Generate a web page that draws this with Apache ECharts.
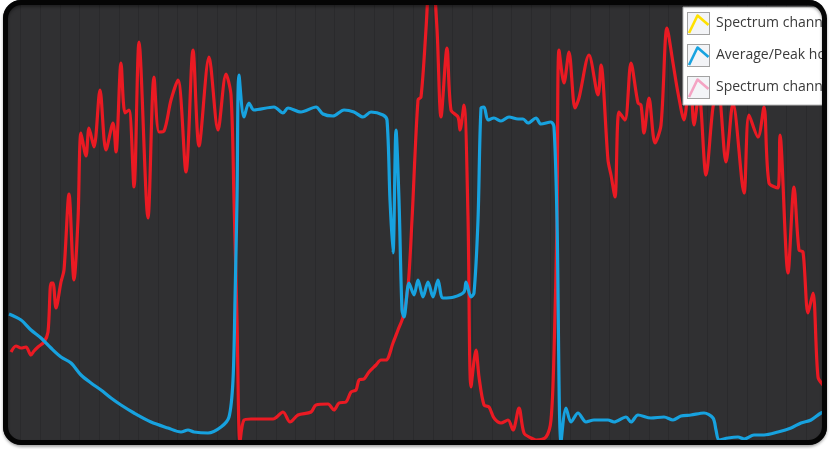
<!DOCTYPE html>
<html><head><meta charset="utf-8">
<script src="https://cdn.jsdelivr.net/npm/echarts@6/dist/echarts.min.js"></script>
<style>html,body{margin:0;padding:0;background:#fff}#c{width:830px;height:449px}</style>
</head><body><div id="c"></div>
<script>
// Horizontal position (channel index across the sweep) and level (arbitrary units above plot floor)
const redX = [10,15,20,25,30,33,37,43,47,50,52,55,60,63,68,73,77,80,85,88,93,99,105,112,115,120,124,128,133,138,147,153,158,163,170,177,185,192,198,208,217,225,230,233,236,239,243,250,272,282,289,297,310,315,327,333,338,345,350,355,358,363,368,375,380,385,392,397,402,407,411,417,420,425,430,436,440,446,450,457,459,463,467,470,475,478,483,488,493,500,507,512,518,523,530,535,545,550,553,556,558,563,568,574,578,588,597,600,607,610,614,618,624,630,637,640,643,648,654,660,666,672,677,683,689,693,698,705,712,717,725,732,743,748,757,763,768,777,779,787,793,798,802,807,812,817,822,828];
const redY = [97,103,101,102,94,98,102,107,117,166,166,141,167,179,255,169,229,316,293,321,302,359,299,326,297,386,336,339,262,407,231,372,317,318,349,369,277,399,303,392,319,375,354,249,129,7,29,30,30,37,27,34,37,44,45,39,46,47,57,59,69,70,77,84,89,89,106,119,132,162,229,349,352,420,500,420,332,401,339,332,319,344,232,62,99,72,44,42,31,26,29,19,41,16,11,9,12,29,96,229,399,366,397,341,351,394,354,384,289,274,252,337,329,386,346,344,316,351,306,324,421,386,356,329,379,324,356,274,342,361,287,346,256,334,312,342,266,261,314,176,262,199,197,136,156,72,64,59];
const blueX = [8,20,30,40,50,60,70,80,90,100,110,120,133,150,167,180,187,193,207,220,228,232,234,236,238,243,248,253,273,282,287,300,315,322,332,343,353,362,370,382,386,389,392,395,398,401,403,408,413,417,422,427,432,437,442,453,463,465,470,473,477,480,483,487,493,500,508,517,522,527,535,540,550,553,556,560,565,570,577,585,593,607,613,625,630,637,650,663,672,680,690,703,712,715,718,727,737,743,753,763,777,790,800,810,820,828];
const blueY = [135,129,119,111,101,92,86,74,66,59,51,44,36,27,21,17,19,17,16,22,32,69,149,249,374,332,346,339,342,336,341,337,342,335,333,339,337,332,337,334,329,249,196,319,249,139,132,166,154,169,152,167,152,169,151,152,157,167,152,156,229,341,342,329,331,328,332,330,330,326,331,325,327,322,229,7,41,27,36,27,29,29,27,32,27,34,31,32,29,33,34,36,31,19,9,11,12,10,14,14,17,21,26,29,36,39];
const legendNames = ['Spectrum channel 1', 'Average/Peak hold', 'Spectrum channel 2'];
const legendColors = ['#ffe100', '#18a3e0', '#f4a3c3'];
const redName = 'Spectrum channel';

function icon(c) {
  const s = '<svg xmlns="http://www.w3.org/2000/svg" width="23" height="23" viewBox="0 0 23 23">' +
    '<rect x="0.5" y="0.5" width="22" height="22" fill="#f3f4f7" stroke="#a2a2a2"/>' +
    '<polyline points="2,21 10.5,3.5 21.5,13" fill="none" stroke="' + c + '" stroke-width="2.6" stroke-linejoin="round"/></svg>';
  return 'image://data:image/svg+xml;charset=utf-8,' + encodeURIComponent(s);
}

const chart = echarts.init(document.getElementById('c'), null, {renderer: 'canvas'});
chart.setOption({
  animation: false,
  backgroundColor: '#303032',
  grid: {left: 1, right: 0, top: 0, bottom: 0},
  xAxis: {
    type: 'value', min: 0, max: 829, interval: 19.63,
    axisLine: {show: false}, axisTick: {show: false}, axisLabel: {show: false},
    splitLine: {show: true, lineStyle: {color: '#2a2a2c', width: 1}}
  },
  yAxis: {
    type: 'value', min: 0, max: 449,
    axisLine: {show: false}, axisTick: {show: false}, axisLabel: {show: false},
    splitLine: {show: false}
  },
  legend: {
    orient: 'vertical', left: 683, top: 7,
    padding: [5, 30, 6, 4], itemGap: 9, itemWidth: 23, itemHeight: 23,
    backgroundColor: '#ffffff', borderColor: '#b8b8b8', borderWidth: 1,
    selectedMode: false,
    textStyle: {fontFamily: 'Open Sans', fontSize: 14, color: '#3a3a3a', padding: [0, 0, 0, 1]},
    data: legendNames.map((n, i) => ({name: n, icon: icon(legendColors[i])}))
  },
  series: [
    {name: legendNames[0], type: 'line', data: [], symbol: 'none', lineStyle: {color: legendColors[0], width: 3}, itemStyle: {color: legendColors[0]}},
    {name: legendNames[2], type: 'line', data: [], symbol: 'none', lineStyle: {color: legendColors[2], width: 3}, itemStyle: {color: legendColors[2]}},
    {name: redName, type: 'line', data: redX.map((x, i) => [x, redY[i]]), symbol: 'none', smooth: 0.3,
      lineStyle: {color: '#ea1a23', width: 3.2}, itemStyle: {color: '#ea1a23'}},
    {name: legendNames[1], type: 'line', data: blueX.map((x, i) => [x, blueY[i]]), symbol: 'none', smooth: 0.3,
      lineStyle: {color: '#17a2df', width: 3.2}, itemStyle: {color: '#17a2df'}}
  ],
  graphic: [
    {type: 'rect', z: 100, silent: true,
      shape: {x: -17, y: -20, width: 864, height: 485, r: 38},
      style: {fill: null, stroke: '#ffffff', lineWidth: 40}},
    {type: 'rect', z: 101, silent: true,
      shape: {x: 5.5, y: 2.5, width: 819, height: 440, r: 16},
      style: {fill: null, stroke: '#050505', lineWidth: 5, shadowBlur: 3, shadowOffsetY: 2, shadowColor: 'rgba(0,0,0,0.35)'}}
  ]
});
</script>
</body></html>
